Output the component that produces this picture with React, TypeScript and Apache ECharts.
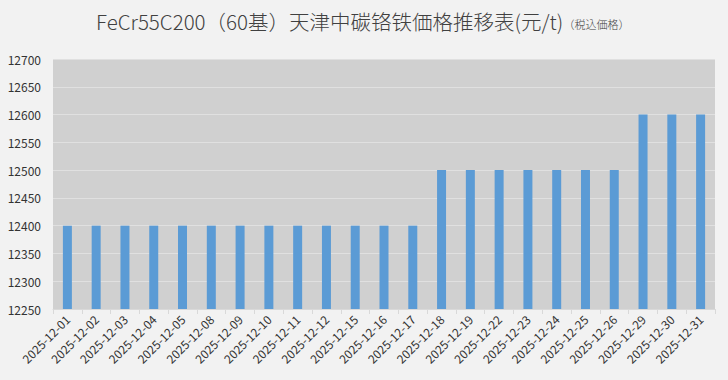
import React, { useEffect, useRef } from "react";
import * as echarts from "echarts";

const categories = [
  "2025-12-01", "2025-12-02", "2025-12-03", "2025-12-04", "2025-12-05",
  "2025-12-08", "2025-12-09", "2025-12-10", "2025-12-11", "2025-12-12",
  "2025-12-15", "2025-12-16", "2025-12-17", "2025-12-18", "2025-12-19",
  "2025-12-22", "2025-12-23", "2025-12-24", "2025-12-25", "2025-12-26",
  "2025-12-29", "2025-12-30", "2025-12-31",
];
const prices = [
  12400, 12400, 12400, 12400, 12400,
  12400, 12400, 12400, 12400, 12400,
  12400, 12400, 12400, 12500, 12500,
  12500, 12500, 12500, 12500, 12500,
  12600, 12600, 12600,
];
const titleMain = "FeCr55C200（60基）天津中碳铬铁価格推移表(元/t)";
const titleSub = "（税込価格）";

export default function App() {
  const ref = useRef<HTMLDivElement>(null);
  useEffect(() => {
    if (!ref.current) return;
    const chart = echarts.init(ref.current, undefined, { renderer: "svg" });
    const font = "'Noto Sans CJK JP', 'Noto Sans', sans-serif";
    chart.setOption({
      animation: false,
      backgroundColor: "#f2f2f2",
      title: {
        text: `{a|${titleMain}}{b|${titleSub}}`,
        left: 91,
        top: 6,
        textStyle: {
          fontWeight: "normal",
          rich: {
            a: { fontSize: 20.5, color: "#404040", fontFamily: font, fontWeight: 300 },
            b: { fontSize: 11, color: "#404040", fontFamily: font, fontWeight: 300, padding: [5, 0, 0, 0] },
          },
        },
      },
      grid: { left: 53, right: 13, top: 59, bottom: 71, show: true, backgroundColor: "#d0d0d0", borderWidth: 0 },
      xAxis: {
        type: "category",
        data: categories,
        axisLine: { show: true, lineStyle: { color: "#d9d9d9" } },
        axisTick: { show: true, length: 5, lineStyle: { color: "#d9d9d9" }, alignWithLabel: false },
        axisLabel: { rotate: 45, fontSize: 12, color: "#333", fontFamily: font, margin: 8, interval: 0 },
      },
      yAxis: {
        type: "value",
        min: 12250,
        max: 12700,
        interval: 50,
        axisLine: { show: false },
        axisTick: { show: false },
        splitLine: { lineStyle: { color: "#e0e0e0", width: 1 } },
        axisLabel: { fontSize: 12, color: "#333", fontFamily: font, margin: 12, formatter: (v: number) => String(v) },
      },
      series: [
        {
          type: "bar",
          data: prices,
          barWidth: 9,
          itemStyle: { color: "#5b9bd5" },
        },
      ],
    });
    return () => chart.dispose();
  }, []);
  return <div ref={ref} style={{ width: 728, height: 380, position: "absolute", left: 0, top: 0 }} />;
}
